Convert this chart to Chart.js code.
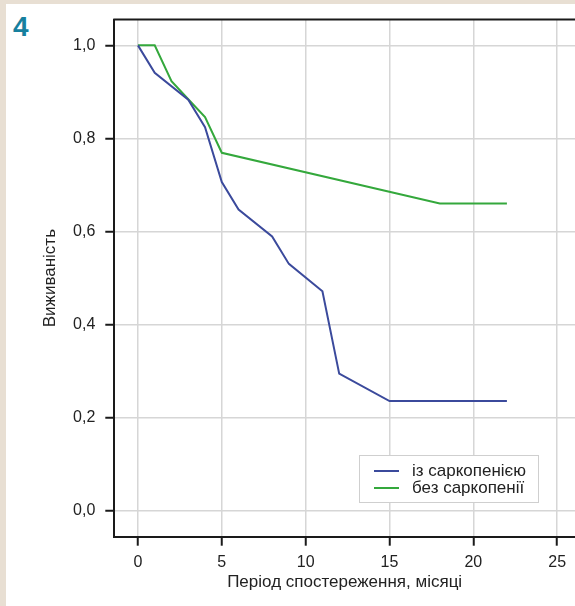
<!DOCTYPE html>
<html>
<head>
<meta charset="utf-8">
<script src="https://cdn.jsdelivr.net/npm/chart.js@4/dist/chart.umd.min.js"></script>
<style>
  html, body { margin: 0; padding: 0; }
  body { width: 575px; height: 606px; background: #e8dfd3; position: relative; overflow: hidden; }
  #panel { position: absolute; left: 6px; top: 4px; right: 0; bottom: 0; background: #fff; }
  #num { position: absolute; left: 13px; top: 11px; font: bold 28px "Liberation Sans", Arial, sans-serif; color: #17809e; }
  #c { position: absolute; left: 0; top: 0; }
</style>
</head>
<body>
<div id="panel"></div>
<div id="num">4</div>
<canvas id="c" width="575" height="606"></canvas>
<script>
// survival curves, months vs share alive
const withMonths = [0, 1, 3, 4, 5, 6, 8, 9, 11, 12, 15, 22];
const withSurv = [1.0, 0.941, 0.883, 0.824, 0.706, 0.647, 0.589, 0.530, 0.471, 0.294, 0.235, 0.235];
const withoutMonths = [0, 1, 2, 3, 4, 5, 18, 22];
const withoutSurv = [1.0, 1.0, 0.923, 0.884, 0.846, 0.769, 0.660, 0.660];

const xTicks = [0, 5, 10, 15, 20, 25];
const yTicks = [0, 0.2, 0.4, 0.6, 0.8, 1.0];
const labels = ['із саркопенією', 'без саркопенії'];
const colors = ['#3b4a9c', '#34a83c'];

const pts = (xs, ys) => xs.map((x, i) => ({x: x, y: ys[i]}));

Chart.defaults.font.family = '"Liberation Sans", Arial, sans-serif';
Chart.defaults.color = '#222';

const frame = {
  id: 'frame',
  afterDraw(chart) {
    const {ctx, chartArea: a} = chart;
    ctx.save();
    ctx.strokeStyle = '#1a1a1a';
    ctx.lineWidth = 2;
    ctx.beginPath();
    ctx.moveTo(a.left - 1, a.top);
    ctx.lineTo(a.right, a.top);
    ctx.stroke();

    // legend box
    const bx = 359, by = 455, bw = 179, bh = 47;
    ctx.fillStyle = '#fff';
    ctx.fillRect(bx, by, bw, bh);
    ctx.strokeStyle = '#cfcfcf';
    ctx.lineWidth = 1;
    ctx.strokeRect(bx + 0.5, by + 0.5, bw, bh);
    ctx.font = '17px "Liberation Sans", Arial, sans-serif';
    ctx.textBaseline = 'middle';
    chart.data.datasets.forEach((ds, i) => {
      const y = by + 16 + i * 17;
      ctx.strokeStyle = ds.borderColor;
      ctx.lineWidth = 2;
      ctx.beginPath();
      ctx.moveTo(bx + 15, y);
      ctx.lineTo(bx + 40, y);
      ctx.stroke();
      ctx.fillStyle = '#222';
      ctx.fillText(ds.label, bx + 53, y);
    });
    ctx.restore();
  }
};

new Chart(document.getElementById('c'), {
  type: 'scatter',
  data: {
    datasets: [
      {label: labels[0], data: pts(withMonths, withSurv), borderColor: colors[0], backgroundColor: colors[0]},
      {label: labels[1], data: pts(withoutMonths, withoutSurv), borderColor: colors[1], backgroundColor: colors[1]}
    ].map(d => ({...d, showLine: true, borderWidth: 2, pointRadius: 0, tension: 0}))
  },
  options: {
    responsive: false,
    animation: false,
    devicePixelRatio: 1,
    layout: {padding: {top: 18.5, right: 0, bottom: 0, left: 0}},
    plugins: {legend: {display: false}, tooltip: {enabled: false}},
    scales: {
      x: {
        type: 'linear',
        min: -1.41,
        max: 26.06,
        afterBuildTicks: s => { s.ticks = xTicks.map(v => ({value: v})); },
        afterFit: s => { s.height = 69.3; },
        grid: {color: '#d6d6d6', lineWidth: 1.5, tickColor: '#1a1a1a', tickLength: 9, tickWidth: 2},
        border: {display: true, color: '#1a1a1a', width: 2},
        ticks: {font: {size: 16}, padding: 7, maxRotation: 0},
        title: {display: true, text: 'Період спостереження, місяці', font: {size: 17}, padding: {top: 0, bottom: 13.5}}
      },
      y: {
        type: 'linear',
        min: -0.0567,
        max: 1.0554,
        afterBuildTicks: s => { s.ticks = yTicks.map(v => ({value: v})); },
        afterFit: s => { s.width = 114.3; },
        grid: {color: '#d6d6d6', lineWidth: 1.5, tickColor: '#1a1a1a', tickLength: 9, tickWidth: 2},
        border: {display: true, color: '#1a1a1a', width: 2},
        ticks: {font: {size: 16}, padding: 10, callback: v => v.toFixed(1).replace('.', ',')},
        title: {display: true, text: 'Виживаність', font: {size: 17}, padding: {top: 40.5, bottom: 0}}
      }
    }
  },
  plugins: [frame]
});
</script>
</body>
</html>
